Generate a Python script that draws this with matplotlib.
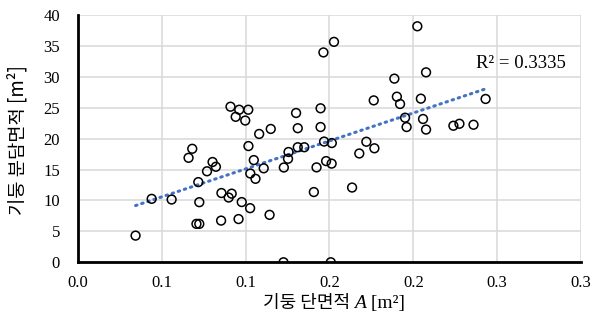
import numpy as np
import matplotlib
matplotlib.use("Agg")
import matplotlib.pyplot as plt
from matplotlib.offsetbox import TextArea, HPacker, AnchoredOffsetbox

plt.rcParams['font.family'] = ['Liberation Serif', 'Noto Sans CJK KR']

# column section area A [m2] vs. tributary area [m2]
area = [0.0344, 0.0440, 0.0559, 0.0660, 0.0682, 0.0718, 0.0724, 0.0707, 0.0724, 0.0770,
        0.0803, 0.0823, 0.0856, 0.0899, 0.0917, 0.0854, 0.0958, 0.0977, 0.0910, 0.0962,
        0.1016, 0.0941, 0.0998, 0.1081, 0.1150, 0.1017, 0.1049, 0.1028, 0.1059, 0.1027,
        0.1108, 0.1143, 0.1228, 0.1253, 0.1256, 0.1311, 0.1350, 0.1301, 0.1311, 0.1226,
        0.1423, 0.1407, 0.1447, 0.1447, 0.1468, 0.1514, 0.1480, 0.1513, 0.1464, 0.1527,
        0.1508, 0.1678, 0.1720, 0.1768, 0.1635, 0.1764, 0.1887, 0.1902, 0.1921, 0.1951,
        0.1960, 0.2024, 0.2045, 0.2076, 0.2058, 0.2076, 0.2239, 0.2275, 0.2359, 0.2431]
trib = [4.31, 10.26, 10.15, 16.90, 18.36, 12.97, 9.72, 6.21, 6.21, 14.72,
        16.22, 15.45, 11.20, 10.47, 11.10, 6.74, 6.99, 9.74, 25.17, 24.68,
        24.68, 23.53, 22.93, 20.76, 21.57, 18.80, 16.53, 14.36, 13.50, 8.75,
        15.20, 7.67, 15.33, 16.74, 17.84, 18.61, 18.61, 24.15, 21.69, 0.0,
        15.35, 11.36, 24.91, 21.88, 19.53, 19.29, 16.37, 15.96, 33.95, 35.66,
        0.0, 17.60, 19.50, 18.44, 12.09, 26.19, 29.71, 26.79, 25.61, 23.39,
        21.88, 38.18, 26.47, 30.73, 23.18, 21.47, 22.09, 22.41, 22.25, 26.42]

xticks = [0.0, 0.05, 0.10, 0.15, 0.20, 0.25, 0.30]
xticklabels = ['0.0', '0.1', '0.1', '0.2', '0.2', '0.3', '0.3']
yticks = [0, 5, 10, 15, 20, 25, 30, 35, 40]
r2_text = 'R² = 0.3335'

x = np.array(area)
y = np.array(trib)

fig = plt.figure(figsize=(5.99, 3.27), dpi=100)
ax = fig.add_axes([0.130, 0.198, 0.840, 0.756])

ax.scatter(x, y, s=40, facecolors='none', edgecolors='black', linewidths=1.1, zorder=3)

# linear trendline
k, b = np.polyfit(x, y, 1)
xt = np.array([x.min(), x.max()])
ax.plot(xt, k * xt + b, color='#4472C4', lw=2.2, linestyle=(0, (0.5, 1.6)),
        dash_capstyle='round', zorder=2)

ax.text(0.264, 32.2, r2_text, fontsize=13.5, ha='center', va='center')

ax.set_xlim(0, 0.3)
ax.set_ylim(0, 40)
ax.set_xticks(xticks)
ax.set_xticklabels(xticklabels)
ax.set_yticks(yticks)
ax.tick_params(length=0, labelsize=12)
ax.tick_params(axis='x', pad=9)
ax.tick_params(axis='y', pad=13)
ax.grid(True, color='#d9d9d9', lw=1.1)
ax.set_axisbelow(True)

for s in ['top', 'right']:
    ax.spines[s].set_visible(False)
for s in ['left', 'bottom']:
    ax.spines[s].set_color('black')
    ax.spines[s].set_linewidth(2)

# x label with italic A
kor = dict(family=['Noto Sans CJK KR'], size=13)
ser = dict(family=['Liberation Serif'], size=14)
parts = [TextArea('기둥 단면적 ', textprops=kor),
         TextArea('A', textprops=dict(ser, style='italic')),
         TextArea(' [m²]', textprops=ser)]
box = HPacker(children=parts, align='baseline', pad=0, sep=0)
anch = AnchoredOffsetbox(loc='center', child=box, frameon=False, pad=0,
                         bbox_to_anchor=(0.558, 0.072), bbox_transform=fig.transFigure)
fig.add_artist(anch)

fig.text(0.030, 0.572, '기둥 분담면적 [m²]', rotation=90, ha='center', va='center',
         fontsize=13.5, family=['Noto Sans CJK KR', 'Liberation Serif'])

fig.savefig('out.png', dpi=100)
